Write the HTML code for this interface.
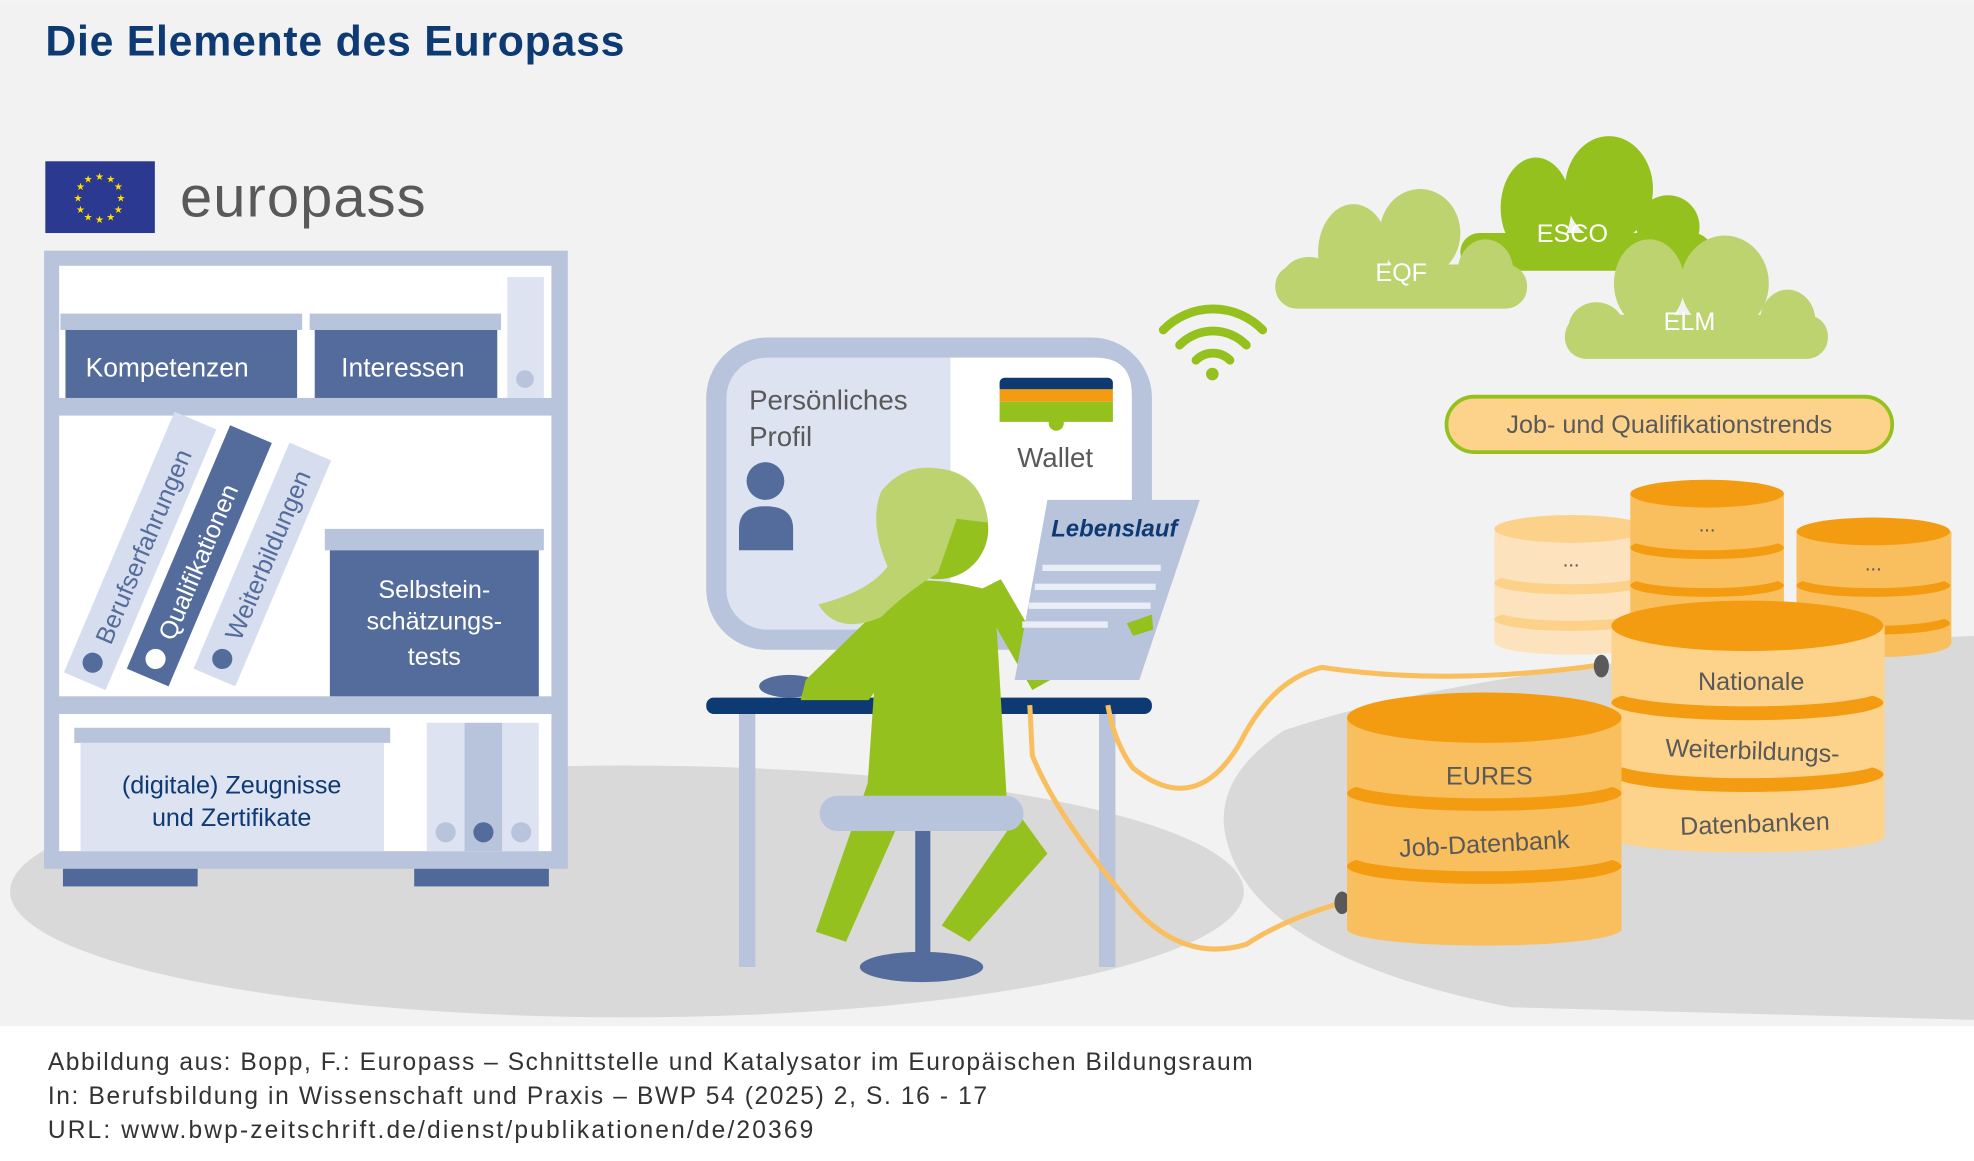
<!DOCTYPE html>
<html><head><meta charset="utf-8"><style>html,body{margin:0;padding:0;background:#fff}svg{display:block}text{font-family:"Liberation Sans",sans-serif}</style></head><body>
<svg width="1974" height="1161" viewBox="0 0 1568 922" xmlns="http://www.w3.org/2000/svg">
<rect x="0" y="0" width="1568" height="815" fill="#f2f2f2"/>
<text x="36" y="44" font-size="34" font-weight="bold" fill="#0d3a73" textLength="460">Die Elemente des Europass</text>
<!-- floors -->
<ellipse cx="498" cy="708" rx="490" ry="100" fill="#d9d9d9"/>
<path d="M1568 505 Q1200 520 1020 580 Q960 620 975 670 Q1000 760 1200 800 L1568 810 Z" fill="#d9d9d9"/>
<!-- EU flag -->
<rect x="36" y="128" width="87" height="57" fill="#2b3990"/>
<g fill="#ffde00" font-size="8" text-anchor="middle">
<text x="79" y="143">★</text><text x="88" y="145">★</text><text x="94" y="151">★</text><text x="96" y="160">★</text><text x="94" y="169">★</text><text x="88" y="175">★</text><text x="79" y="177">★</text><text x="70" y="175">★</text><text x="64" y="169">★</text><text x="62" y="160">★</text><text x="64" y="151">★</text><text x="70" y="145">★</text></g>
<text x="143" y="172" font-size="46" fill="#595959" textLength="195">europass</text>
<!-- shelf -->
<rect x="35" y="199" width="416" height="491" fill="#b8c3dc"/>
<rect x="47" y="211" width="391" height="105" fill="#fff"/>
<rect x="47" y="330" width="391" height="223" fill="#fff"/>
<rect x="47" y="567" width="391" height="109" fill="#fff"/>
<rect x="50" y="690" width="107" height="14" fill="#51699a"/>
<rect x="329" y="690" width="107" height="14" fill="#51699a"/>
<rect x="48" y="249" width="192" height="13" fill="#b8c3dc"/><rect x="52" y="262" width="184" height="54" fill="#536c9c"/>
<text x="68" y="299" font-size="21" fill="#fff">Kompetenzen</text>
<rect x="246" y="249" width="152" height="13" fill="#b8c3dc"/><rect x="250" y="262" width="145" height="54" fill="#536c9c"/>
<text x="271" y="299" font-size="21" fill="#fff">Interessen</text>
<rect x="403" y="220" width="29" height="96" fill="#dde3f1"/><circle cx="417" cy="301" r="7" fill="#b8c3dc"/>
<!-- leaning binders -->
<g transform="translate(72,530) rotate(-67)"><rect x="-12" y="-18" width="225" height="36" fill="#d6ddee"/><circle cx="4" cy="0" r="8" fill="#536c9c"/><text x="22" y="8" font-size="20" fill="#536c9c">Berufserfahrungen</text></g>
<g transform="translate(122,527) rotate(-67)"><rect x="-12" y="-18" width="210" height="36" fill="#536c9c"/><circle cx="4" cy="0" r="8" fill="#fff"/><text x="22" y="8" font-size="20" fill="#fff">Qualifikationen</text></g>
<g transform="translate(175,527) rotate(-67)"><rect x="-12" y="-18" width="195" height="36" fill="#d6ddee"/><circle cx="4" cy="0" r="8" fill="#536c9c"/><text x="22" y="8" font-size="20" fill="#536c9c">Weiterbildungen</text></g>
<rect x="258" y="420" width="174" height="17" fill="#b8c3dc"/><rect x="262" y="437" width="166" height="116" fill="#536c9c"/>
<g font-size="20" fill="#fff" text-anchor="middle"><text x="345" y="475">Selbstein-</text><text x="345" y="500">schätzungs-</text><text x="345" y="528">tests</text></g>
<rect x="59" y="578" width="251" height="12" fill="#b8c3dc"/><rect x="64" y="590" width="241" height="86" fill="#dde3f1"/>
<g font-size="20" fill="#0d3a73" text-anchor="middle"><text x="184" y="630">(digitale) Zeugnisse</text><text x="184" y="656">und Zertifikate</text></g>
<rect x="339" y="574" width="30" height="102" fill="#dde3f1"/><rect x="369" y="574" width="30" height="102" fill="#b8c3dc"/><rect x="399" y="574" width="29" height="102" fill="#dde3f1"/>
<circle cx="354" cy="661" r="8" fill="#b8c3dc"/><circle cx="384" cy="661" r="8" fill="#536c9c"/><circle cx="414" cy="661" r="8" fill="#b8c3dc"/>
<!-- monitor -->
<rect x="569" y="276" width="338" height="232" rx="40" fill="#dde3f1" stroke="#b8c3dc" stroke-width="16"/>
<path d="M755 284 H870 Q899 284 899 313 V500 H755 Z" fill="#fff"/>
<text x="595" y="325" font-size="22" fill="#595959">Persönliches</text><text x="595" y="354" font-size="22" fill="#595959">Profil</text>
<circle cx="608" cy="382" r="15" fill="#536c9c"/><path d="M587 437 V420 Q587 402 608 402 Q630 402 630 420 V437 Z" fill="#536c9c"/>
<rect x="794" y="300" width="90" height="12" rx="4" fill="#0d3a73"/><rect x="794" y="309" width="90" height="10" fill="#f39c12"/><rect x="794" y="319" width="90" height="16" fill="#95c11f"/><circle cx="839" cy="336" r="6" fill="#95c11f"/>
<text x="808" y="371" font-size="22" fill="#595959">Wallet</text>
<!-- desk -->
<rect x="587" y="560" width="13" height="208" fill="#b8c3dc"/><rect x="873" y="560" width="13" height="208" fill="#b8c3dc"/>
<ellipse cx="627" cy="545" rx="24" ry="9" fill="#536c9c"/>
<rect x="561" y="554" width="354" height="13" rx="6" fill="#0d3a73"/>
<!-- cables -->
<g fill="none" stroke="#f9bf5e" stroke-width="4">
<path d="M1272 528 Q1150 545 1050 530 Q1010 540 985 590 Q950 650 900 610 Q885 590 880 560"/>
<path d="M1066 717 Q1020 730 990 750 Q940 765 900 720 Q840 650 820 600 L818 560"/>
</g>
<ellipse cx="1272" cy="529" rx="6" ry="9" fill="#595959"/><ellipse cx="1066" cy="717" rx="6" ry="9" fill="#595959"/>
<!-- stool -->
<rect x="727" y="655" width="12" height="105" fill="#536c9c"/><ellipse cx="732" cy="768" rx="49" ry="12" fill="#536c9c"/>
<!-- person -->
<g fill="#95c11f">
<path d="M700 465 Q740 455 790 470 L800 640 L688 640 Z"/>
<path d="M712 470 L640 540 L636 556 L690 556 L730 500 Z"/>
<path d="M775 470 L820 548 L915 495 L908 482 L830 520 L795 460 Z"/>
<path d="M690 620 L648 740 L672 748 L720 640 Z"/>
<path d="M760 620 L800 660 L748 735 L770 748 L832 678 L790 620 Z"/>
<circle cx="745" cy="420" r="40"/>
</g>
<path d="M745 372 Q780 375 785 415 L760 412 L745 455 Q720 470 700 490 Q665 505 650 480 Q690 470 705 450 Q690 415 700 390 Q718 368 745 372 Z" fill="#bcd36f"/>
<rect x="651" y="632" width="162" height="28" rx="14" fill="#b8c3dc"/>
<!-- doc -->
<path d="M832 397 L953 397 L905 540 L806 540 Z" fill="#b8c3dc"/>
<text x="835" y="426" font-size="19" font-weight="bold" font-style="italic" fill="#0d3a73">Lebenslauf</text>
<g stroke="#e9edf6" stroke-width="5"><line x1="828" y1="451" x2="922" y2="451"/><line x1="822" y1="466" x2="918" y2="466"/><line x1="817" y1="481" x2="914" y2="481"/><line x1="812" y1="496" x2="880" y2="496"/></g>
<path d="M895 495 L915 488 L916 500 L900 505 Z" fill="#95c11f"/>
<!-- wifi -->
<g fill="none" stroke="#95c11f" stroke-width="7" stroke-linecap="round">
<path d="M924 262 A55 55 0 0 1 1003 262"/><path d="M937 274 A37 37 0 0 1 990 274"/><path d="M950 286 A19 19 0 0 1 977 286"/></g>
<circle cx="963" cy="297" r="5" fill="#95c11f"/>
<!-- clouds -->
<g fill="#95c11f"><rect x="1160" y="185" width="200" height="30" rx="15"/><ellipse cx="1220" cy="165" rx="28" ry="40"/><ellipse cx="1278" cy="150" rx="35" ry="42"/><ellipse cx="1325" cy="180" rx="25" ry="25"/></g>
<g fill="#bcd36f"><rect x="1013" y="210" width="200" height="35" rx="17"/><ellipse cx="1075" cy="200" rx="28" ry="38"/><ellipse cx="1128" cy="185" rx="32" ry="35"/><ellipse cx="1180" cy="215" rx="22" ry="25"/><ellipse cx="1040" cy="222" rx="22" ry="18"/></g>
<g fill="#bcd36f"><rect x="1243" y="250" width="209" height="35" rx="17"/><ellipse cx="1310" cy="225" rx="28" ry="35"/><ellipse cx="1370" cy="225" rx="35" ry="38"/><ellipse cx="1420" cy="255" rx="22" ry="25"/><ellipse cx="1268" cy="260" rx="22" ry="20"/></g>
<g fill="#fff" font-size="20" text-anchor="middle"><text x="1113" y="223">EQF</text><text x="1249" y="192">ESCO</text><text x="1342" y="262">ELM</text></g>
<rect x="1149" y="315" width="354" height="44" rx="22" fill="#fdd38b" stroke="#95c11f" stroke-width="3"/>
<text x="1326" y="344" font-size="20" fill="#595959" text-anchor="middle">Job- und Qualifikationstrends</text>
<!-- back dbs -->
<g>
<rect x="1187" y="420" width="123" height="90" fill="#fde3bd"/><ellipse cx="1248" cy="510" rx="61" ry="10" fill="#fde3bd"/>
<ellipse cx="1248" cy="463" rx="61" ry="9" fill="#fcd28a"/><ellipse cx="1248" cy="492" rx="61" ry="9" fill="#fcd28a"/><ellipse cx="1248" cy="455" rx="61" ry="9" fill="#fde3bd"/><ellipse cx="1248" cy="484" rx="61" ry="9" fill="#fde3bd"/>
<ellipse cx="1248" cy="420" rx="61" ry="11" fill="#fcd28a"/><text x="1248" y="450" font-size="16" fill="#595959" text-anchor="middle">...</text>
<rect x="1295" y="392" width="122" height="100" fill="#f9bf5e"/>
<ellipse cx="1356" cy="435" rx="61" ry="9" fill="#f39c12"/><ellipse cx="1356" cy="428" rx="61" ry="9" fill="#f9bf5e"/>
<ellipse cx="1356" cy="465" rx="61" ry="9" fill="#f39c12"/><ellipse cx="1356" cy="458" rx="61" ry="9" fill="#f9bf5e"/>
<ellipse cx="1356" cy="392" rx="61" ry="11" fill="#f39c12"/><text x="1356" y="422" font-size="16" fill="#595959" text-anchor="middle">...</text>
<rect x="1427" y="422" width="123" height="90" fill="#f9bf5e"/><ellipse cx="1488" cy="512" rx="61" ry="10" fill="#f9bf5e"/>
<ellipse cx="1488" cy="465" rx="61" ry="9" fill="#f39c12"/><ellipse cx="1488" cy="458" rx="61" ry="9" fill="#f9bf5e"/>
<ellipse cx="1488" cy="495" rx="61" ry="9" fill="#f39c12"/><ellipse cx="1488" cy="488" rx="61" ry="9" fill="#f9bf5e"/>
<ellipse cx="1488" cy="422" rx="61" ry="11" fill="#f39c12"/><text x="1488" y="453" font-size="16" fill="#595959" text-anchor="middle">...</text>
</g>
<!-- Nationale -->
<rect x="1280" y="497" width="217" height="168" fill="#fdd38b"/><ellipse cx="1388" cy="665" rx="108" ry="12" fill="#fdd38b"/>
<ellipse cx="1388" cy="558" rx="108" ry="14" fill="#f39c12"/><ellipse cx="1388" cy="547" rx="108" ry="14" fill="#fdd38b"/>
<ellipse cx="1388" cy="615" rx="108" ry="14" fill="#f39c12"/><ellipse cx="1388" cy="604" rx="108" ry="14" fill="#fdd38b"/>
<ellipse cx="1388" cy="497" rx="108" ry="20" fill="#f39c12"/>
<g font-size="20" fill="#595959" text-anchor="middle"><text x="1391" y="548">Nationale</text><text x="1392" y="603" transform="rotate(2 1392 598)">Weiterbildungs-</text><text x="1394" y="661" transform="rotate(-2 1394 655)">Datenbanken</text></g>
<!-- EURES -->
<rect x="1070" y="570" width="218" height="168" fill="#f9bf5e"/><ellipse cx="1179" cy="738" rx="109" ry="13" fill="#f9bf5e"/>
<ellipse cx="1179" cy="630" rx="109" ry="14" fill="#f39c12"/><ellipse cx="1179" cy="620" rx="109" ry="14" fill="#f9bf5e"/>
<ellipse cx="1179" cy="688" rx="109" ry="14" fill="#f39c12"/><ellipse cx="1179" cy="678" rx="109" ry="14" fill="#f9bf5e"/>
<ellipse cx="1179" cy="570" rx="109" ry="20" fill="#f39c12"/>
<g font-size="20" fill="#595959" text-anchor="middle"><text x="1183" y="623">EURES</text><text x="1179" y="677" transform="rotate(-3 1179 670)">Job-Datenbank</text></g>
<!-- footer -->
<g font-size="19.5" fill="#333"><text x="38" y="850" textLength="957">Abbildung aus: Bopp, F.: Europass – Schnittstelle und Katalysator im Europäischen Bildungsraum</text>
<text x="38" y="877" textLength="746">In: Berufsbildung in Wissenschaft und Praxis – BWP 54 (2025) 2, S. 16 - 17</text>
<text x="38" y="904" textLength="608">URL: www.bwp-zeitschrift.de/dienst/publikationen/de/20369</text></g>
</svg>
</body></html>
